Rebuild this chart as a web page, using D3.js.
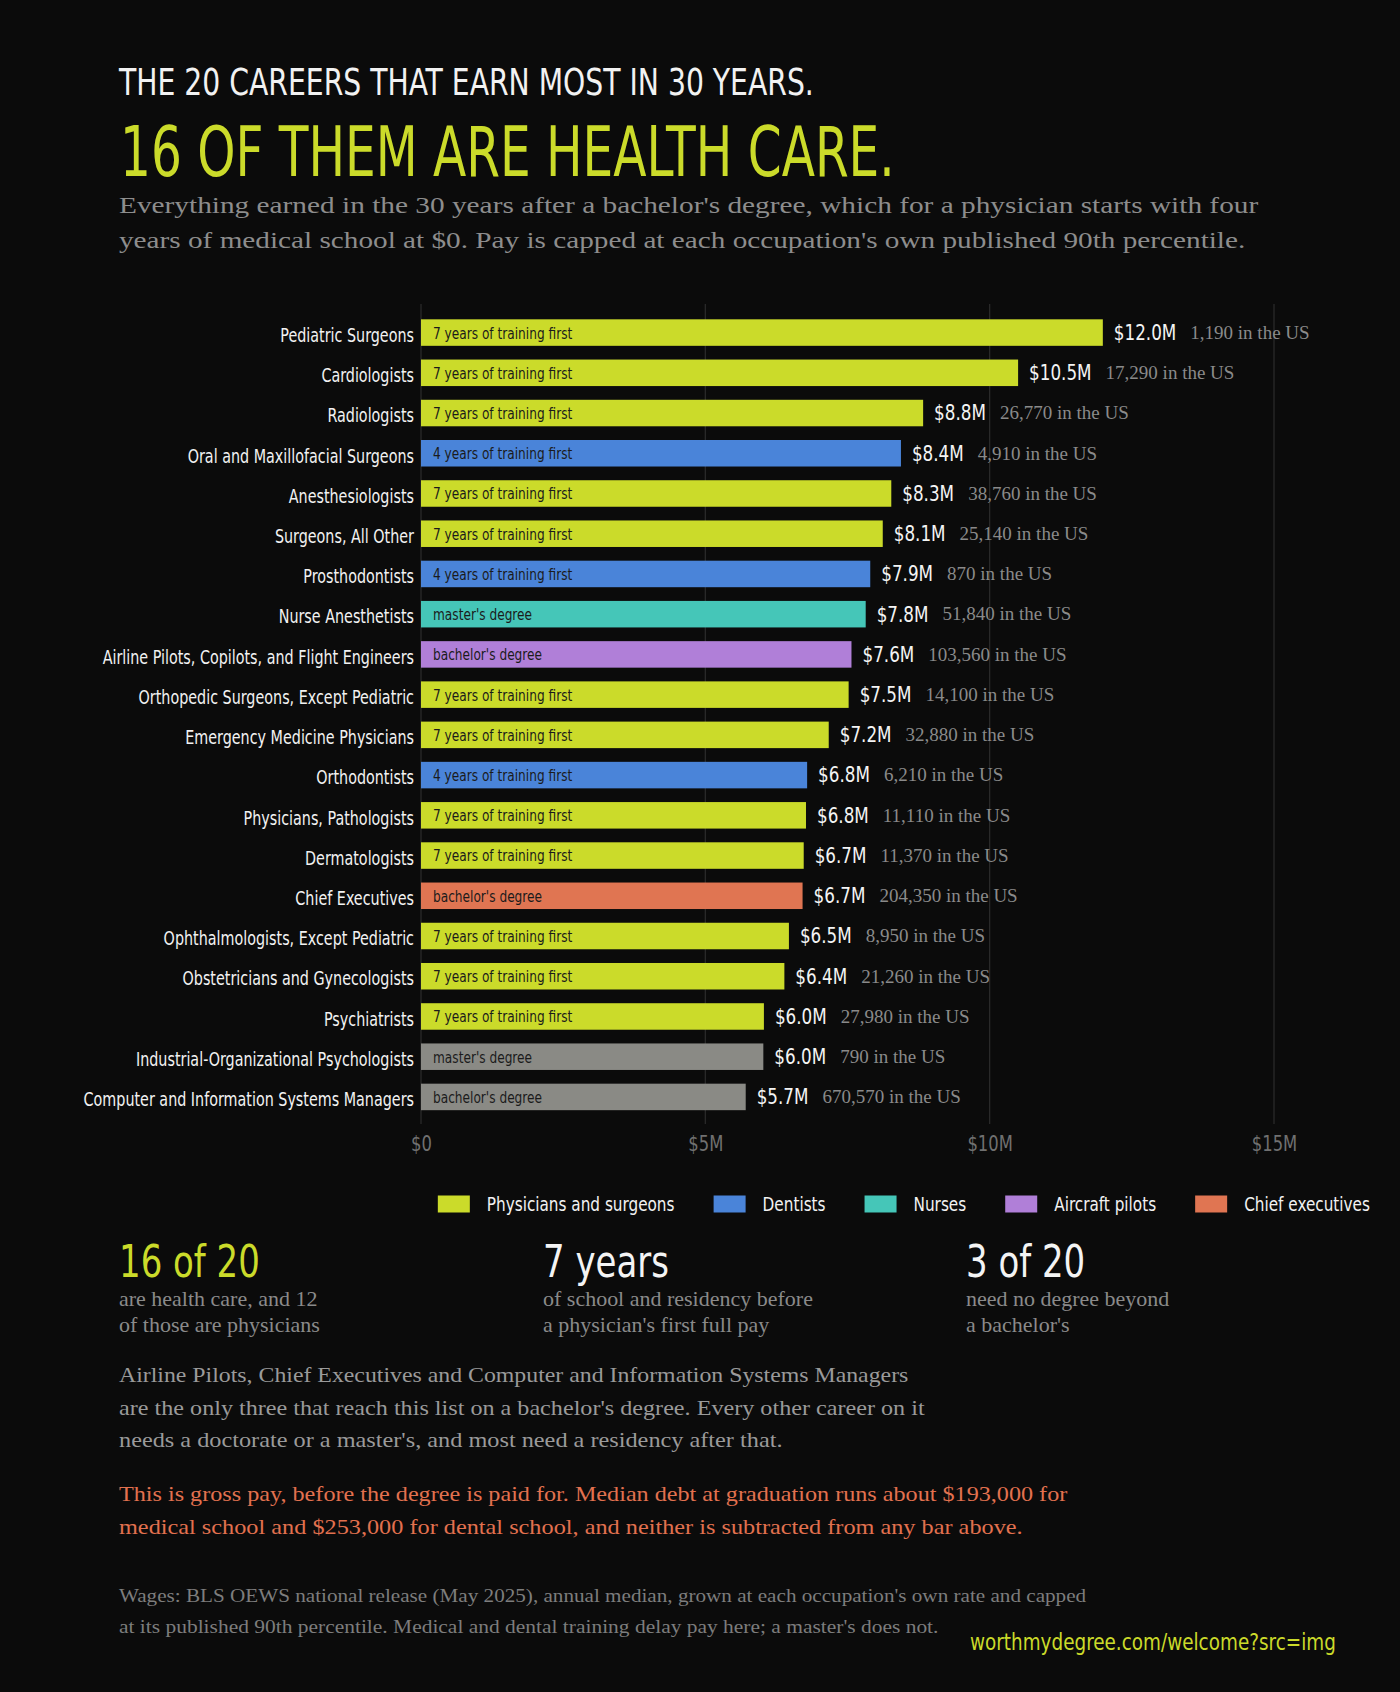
<!DOCTYPE html>
<html>
<head>
<meta charset="utf-8">
<script src="https://cdn.jsdelivr.net/npm/d3@7"></script>
<style>
  html, body { margin: 0; padding: 0; background: #0b0b0b; }
  svg { display: block; }
  .cond { font-family: "Liberation Sans Narrow", "DejaVu Sans Condensed", "Arial Narrow", sans-serif; font-stretch: condensed; }
  .serif { font-family: "Liberation Serif", "DejaVu Serif", Georgia, serif; }
</style>
</head>
<body>
<div id="chart"></div>
<script>
const careers = [
  "Pediatric Surgeons", "Cardiologists", "Radiologists", "Oral and Maxillofacial Surgeons",
  "Anesthesiologists", "Surgeons, All Other", "Prosthodontists", "Nurse Anesthetists",
  "Airline Pilots, Copilots, and Flight Engineers", "Orthopedic Surgeons, Except Pediatric",
  "Emergency Medicine Physicians", "Orthodontists", "Physicians, Pathologists", "Dermatologists",
  "Chief Executives", "Ophthalmologists, Except Pediatric", "Obstetricians and Gynecologists",
  "Psychiatrists", "Industrial-Organizational Psychologists", "Computer and Information Systems Managers"
];
// 30-year earnings, $ millions
const earnings = [11.99, 10.50, 8.83, 8.44, 8.27, 8.12, 7.90, 7.82, 7.57, 7.52,
                  7.17, 6.79, 6.77, 6.73, 6.71, 6.47, 6.39, 6.03, 6.02, 5.71];
const employed = [1190, 17290, 26770, 4910, 38760, 25140, 870, 51840, 103560, 14100,
                  32880, 6210, 11110, 11370, 204350, 8950, 21260, 27980, 790, 670570];
const training = [
  "7 years of training first", "7 years of training first", "7 years of training first",
  "4 years of training first", "7 years of training first", "7 years of training first",
  "4 years of training first", "master's degree", "bachelor's degree", "7 years of training first",
  "7 years of training first", "4 years of training first", "7 years of training first",
  "7 years of training first", "bachelor's degree", "7 years of training first",
  "7 years of training first", "7 years of training first", "master's degree", "bachelor's degree"
];
const groups = ["phys", "phys", "phys", "dent", "phys", "phys", "dent", "nurse", "pilot", "phys",
                "phys", "dent", "phys", "phys", "ceo", "phys", "phys", "phys", "other", "other"];

const groupKeys = ["phys", "dent", "nurse", "pilot", "ceo", "other"];
const groupNames = ["Physicians and surgeons", "Dentists", "Nurses", "Aircraft pilots", "Chief executives"];
const groupColors = ["#cbdb2a", "#4a84d9", "#45c6b8", "#b07fd8", "#e07552", "#8a8a85"];

const xTicks = [0, 5, 10, 15];

const titleText = "THE 20 CAREERS THAT EARN MOST IN 30 YEARS.";
const headlineText = "16 OF THEM ARE HEALTH CARE.";
const subtitleLines = [
  "Everything earned in the 30 years after a bachelor's degree, which for a physician starts with four",
  "years of medical school at $0. Pay is capped at each occupation's own published 90th percentile."
];
const statNumbers = ["16 of 20", "7 years", "3 of 20"];
const statLines = [
  ["are health care, and 12", "of those are physicians"],
  ["of school and residency before", "a physician's first full pay"],
  ["need no degree beyond", "a bachelor's"]
];
const noteLines = [
  "Airline Pilots, Chief Executives and Computer and Information Systems Managers",
  "are the only three that reach this list on a bachelor's degree. Every other career on it",
  "needs a doctorate or a master's, and most need a residency after that."
];
const debtLines = [
  "This is gross pay, before the degree is paid for. Median debt at graduation runs about $193,000 for",
  "medical school and $253,000 for dental school, and neither is subtracted from any bar above."
];
const sourceLines = [
  "Wages: BLS OEWS national release (May 2025), annual median, grown at each occupation's own rate and capped",
  "at its published 90th percentile. Medical and dental training delay pay here; a master's does not."
];
const urlText = "worthmydegree.com/welcome?src=img";

const width = 1400, height = 1692;
const yellow = groupColors[0];

const svg = d3.select("#chart").append("svg")
  .attr("width", width)
  .attr("height", height);

svg.append("rect").attr("width", width).attr("height", height).attr("fill", "#0b0b0b");

// scale a text horizontally so that it is w wide, keeping its anchor point
function fitTo(node, w) {
  const len = node.getComputedTextLength();
  const k = w / len;
  const ax = +node.getAttribute("x") || 0;
  d3.select(node).attr("transform", `translate(${ax * (1 - k)},0) scale(${k},1)`);
  return w;
}
function stretch(sel, w) {
  sel.each(function() { fitTo(this, w); });
  return sel;
}
// narrow or widen each text by a factor of its own width
function squeeze(sel, k) {
  sel.each(function() {
    const w = this.getComputedTextLength() * k;
    fitTo(this, w);
    this.__w = w;
  });
  return sel;
}

// ---- heading
stretch(svg.append("text").attr("class", "cond")
  .attr("x", 119).attr("y", 95)
  .attr("font-size", 37).attr("fill", "#f2f2f2")
  .text(titleText), 695);

stretch(svg.append("text").attr("class", "cond")
  .attr("x", 120).attr("y", 176)
  .attr("font-size", 69).attr("fill", yellow)
  .text(headlineText), 775);

const subW = [1140, 1127];
svg.selectAll(".sub").data(subtitleLines).enter().append("text")
  .attr("class", "serif sub")
  .attr("x", 119).attr("y", (d, i) => 213 + i * 35)
  .attr("font-size", 22.5).attr("fill", "#8d8d8d")
  .text(d => d)
  .each(function(d, i) { fitTo(this, subW[i]); });

// ---- bar chart
const x = d3.scaleLinear().domain([0, 15]).range([421, 1274]);
const y = d3.scaleBand().domain(careers).range([305.6, 1123.9]).padding(0.341);
const color = d3.scaleOrdinal().domain(groupKeys).range(groupColors);

const rows = careers.map((c, i) => ({
  name: c, value: earnings[i], count: employed[i], note: training[i], group: groups[i]
}));

svg.append("g").selectAll("line").data(xTicks).enter().append("line")
  .attr("x1", d => x(d)).attr("x2", d => x(d))
  .attr("y1", 304).attr("y2", 1124)
  .attr("stroke", "#2c2c2c").attr("stroke-width", 1.2);

const xAxis = svg.append("g")
  .attr("transform", "translate(0,1136)")
  .call(d3.axisBottom(x).tickValues(xTicks).tickSize(0).tickPadding(0)
    .tickFormat(d => d === 0 ? "$0" : "$" + d + "M"));
xAxis.select(".domain").remove();
squeeze(xAxis.selectAll("text")
  .attr("class", "cond")
  .attr("dy", "0.75em")
  .attr("font-size", 20.5)
  .attr("fill", "#707070"), 0.89);

const yAxis = svg.append("g")
  .attr("transform", "translate(414,3)")
  .call(d3.axisLeft(y).tickSize(0).tickPadding(0));
yAxis.select(".domain").remove();
squeeze(yAxis.selectAll("text")
  .attr("class", "cond")
  .attr("x", 0)
  .attr("font-size", 19.5)
  .attr("fill", "#f2f2f2"), 0.817);

const bar = svg.append("g").selectAll("g").data(rows).enter().append("g");

bar.append("rect")
  .attr("x", x(0))
  .attr("y", d => y(d.name))
  .attr("width", d => x(d.value) - x(0))
  .attr("height", y.bandwidth())
  .attr("fill", d => color(d.group));

squeeze(bar.append("text")
  .attr("class", "cond")
  .attr("x", x(0) + 12)
  .attr("y", d => y(d.name) + y.bandwidth() / 2)
  .attr("dy", "0.36em")
  .attr("font-size", 16.5)
  .attr("fill", "#1b1b1b")
  .text(d => d.note), 0.82);

const fmtM = d3.format(".1f");
const fmtN = d3.format(",");

squeeze(bar.append("text")
  .attr("class", "cond value")
  .attr("x", d => x(d.value) + 11)
  .attr("y", d => y(d.name) + y.bandwidth() / 2)
  .attr("dy", "0.36em")
  .attr("font-size", 20.5)
  .attr("fill", "#f4f4f4")
  .text(d => "$" + fmtM(d.value) + "M"), 0.91);

bar.each(function(d) {
  const g = d3.select(this);
  const w = g.select(".value").node().__w;
  g.append("text")
    .attr("class", "serif")
    .attr("x", x(d.value) + 11 + w + 14)
    .attr("y", y(d.name) + y.bandwidth() / 2)
    .attr("dy", "0.33em")
    .attr("font-size", 19)
    .attr("fill", "#8a8a8a")
    .text(fmtN(d.count) + " in the US");
});

// ---- legend (right aligned)
const legend = svg.append("g");
const items = legend.selectAll("g").data(groupNames).enter().append("g");
items.append("rect")
  .attr("width", 32).attr("height", 17).attr("y", -8.5)
  .attr("fill", (d, i) => groupColors[i]);
squeeze(items.append("text")
  .attr("class", "cond")
  .attr("x", 49).attr("dy", "0.36em")
  .attr("font-size", 19.5).attr("fill", "#f2f2f2")
  .text(d => d), 0.87);
let lx = 0;
const offsets = [];
items.each(function() {
  offsets.push(lx);
  lx += 49 + d3.select(this).select("text").node().__w + 39;
});
const legendW = lx - 39;
items.attr("transform", (d, i) => `translate(${1370 - legendW + offsets[i]},1204)`);

// ---- stats
const statX = [119, 543, 966];
const stats = svg.append("g").selectAll("g").data(statNumbers).enter().append("g")
  .attr("transform", (d, i) => `translate(${statX[i]},0)`);
squeeze(stats.append("text")
  .attr("class", "cond")
  .attr("y", 1277)
  .attr("font-size", 45)
  .attr("fill", (d, i) => i === 0 ? yellow : "#f4f4f4")
  .text(d => d), 0.84);
stats.each(function(d, i) {
  squeeze(d3.select(this).selectAll(".sl").data(statLines[i]).enter().append("text")
    .attr("class", "serif sl")
    .attr("y", (t, j) => 1306 + j * 26)
    .attr("font-size", 20)
    .attr("fill", "#8a8a8a")
    .text(t => t), 1.1);
});

// ---- notes
function block(lines, y0, step, size, fill, widths) {
  svg.append("g").selectAll("text").data(lines).enter().append("text")
    .attr("class", "serif")
    .attr("x", 119)
    .attr("y", (d, i) => y0 + i * step)
    .attr("font-size", size)
    .attr("fill", fill)
    .text(d => d)
    .each(function(d, i) { fitTo(this, widths[i]); });
}
block(noteLines, 1382.5, 32.3, 21, "#9a9a9a", [790, 806, 664]);
block(debtLines, 1501.5, 33, 21, "#e2714f", [949, 904]);
block(sourceLines, 1602.5, 30.8, 18, "#7d7d7d", [968, 820]);

stretch(svg.append("text").attr("class", "cond")
  .attr("x", 970).attr("y", 1650)
  .attr("font-size", 23).attr("fill", yellow)
  .text(urlText), 366);
</script>
</body>
</html>
